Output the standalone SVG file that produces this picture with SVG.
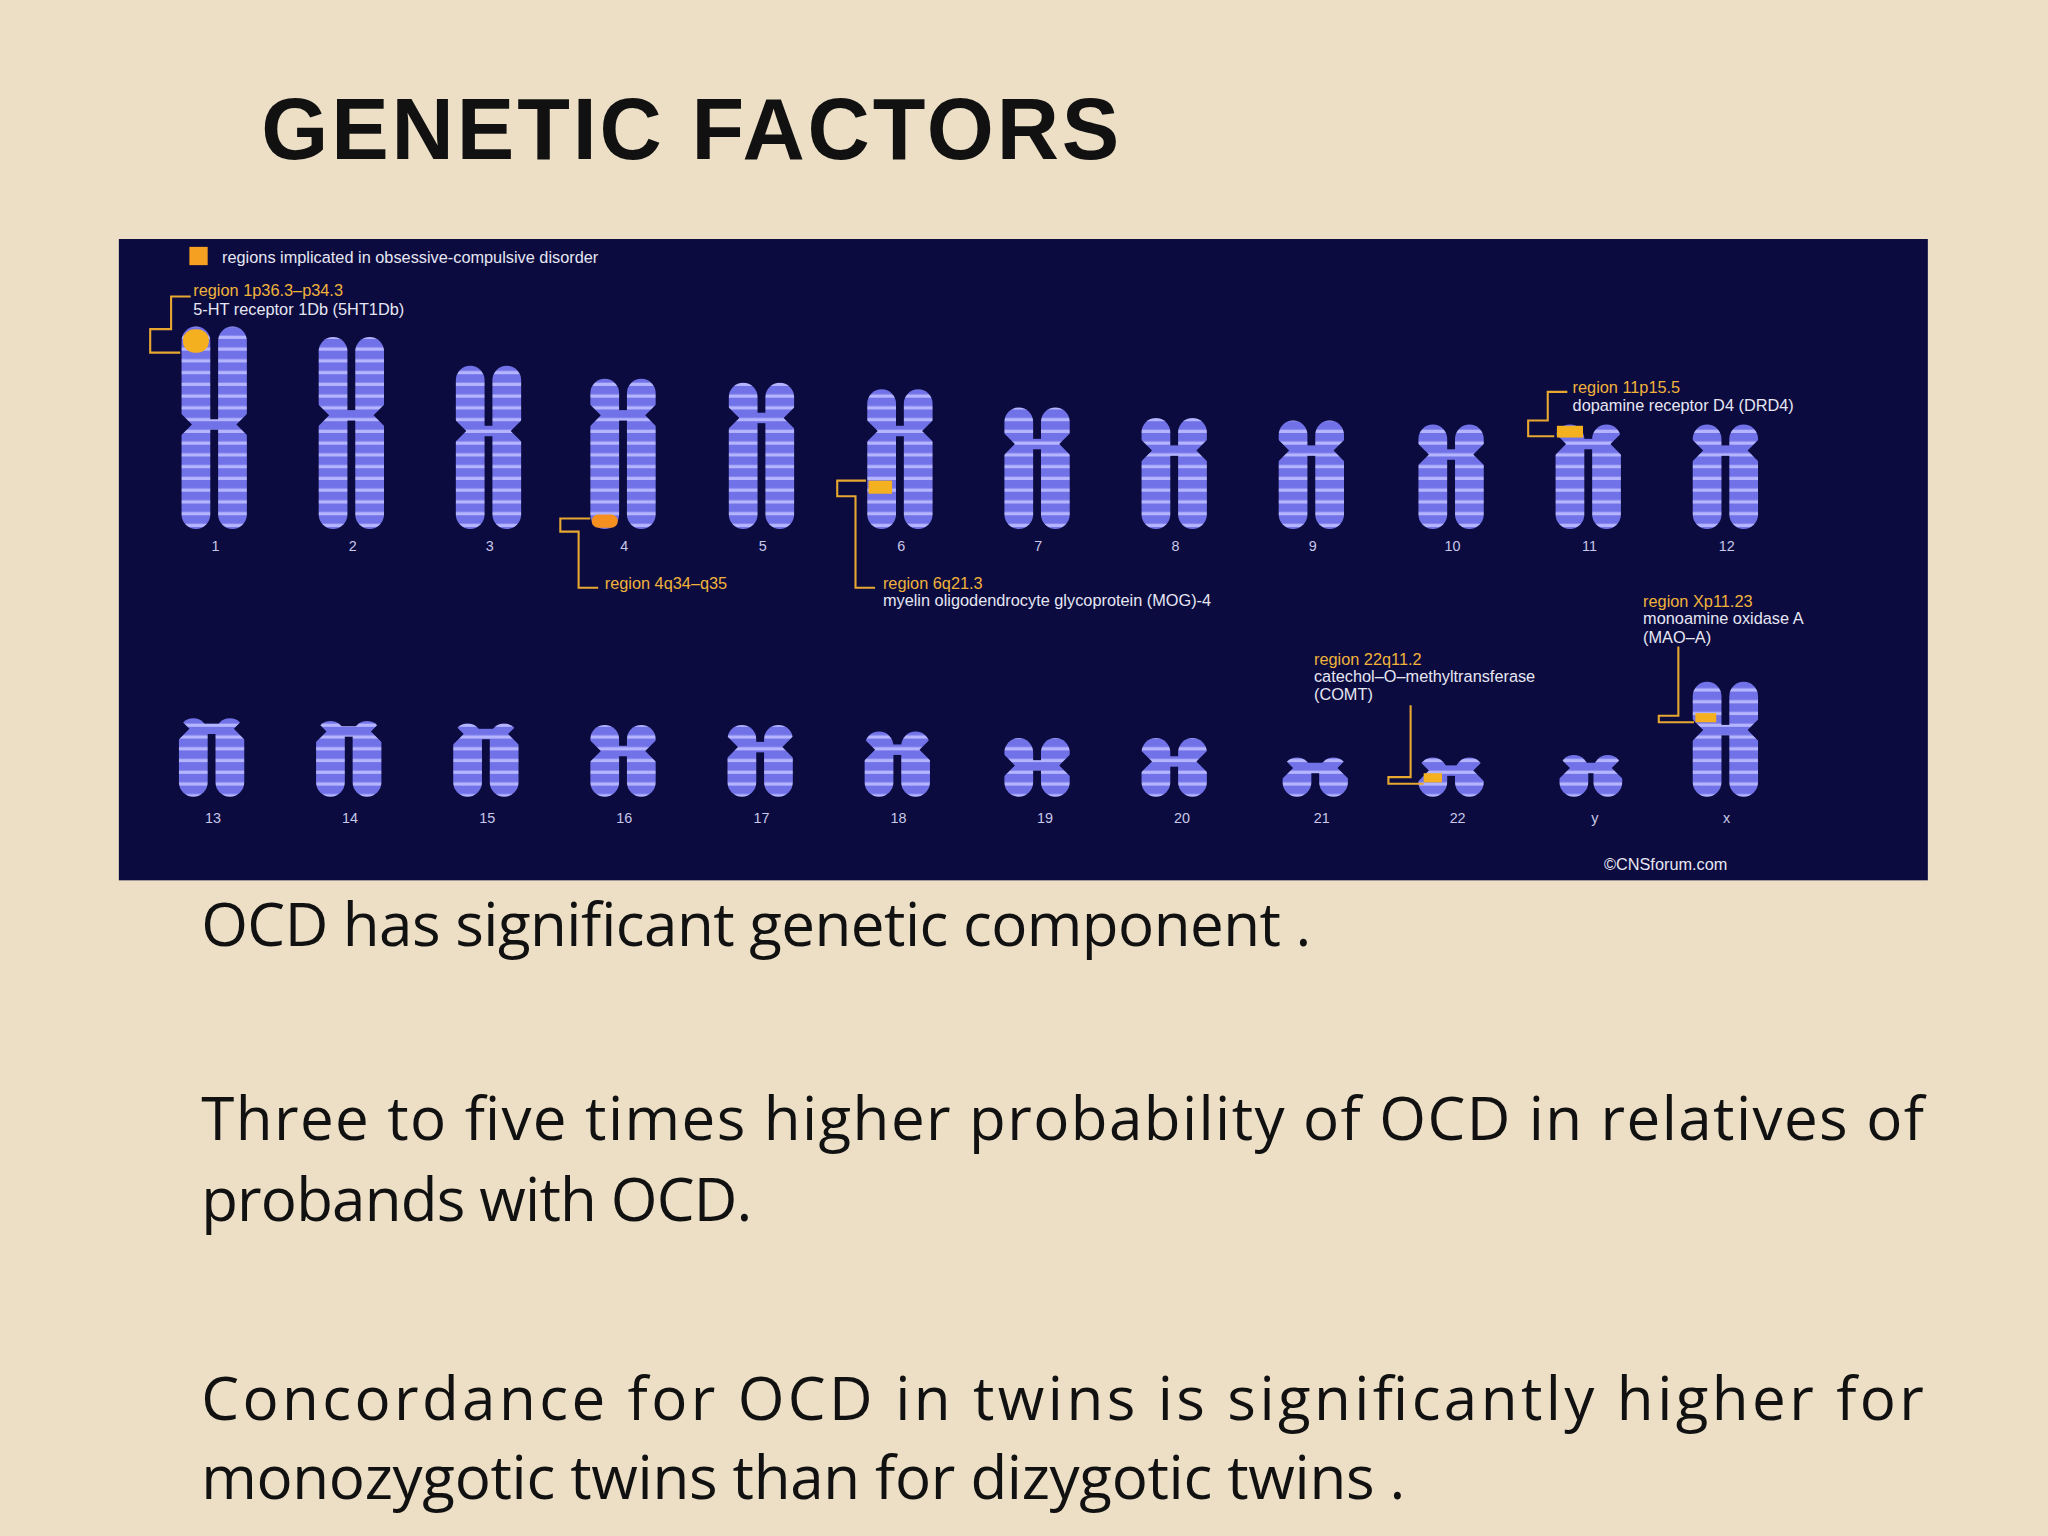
<svg xmlns="http://www.w3.org/2000/svg" width="2048" height="1536" viewBox="0 0 2048 1536">
<defs>
<pattern id="bands" patternUnits="userSpaceOnUse" width="10" height="9">
<rect width="10" height="9" fill="#7272e8"/>
<rect y="5" width="10" height="2.5" fill="#b4b4ff"/>
</pattern>
<style>
.t{font-family:"Liberation Sans",Arial,sans-serif}
.y{fill:#f0b23a;font-size:12.5px}
.w{fill:#e6e6f2;font-size:12.5px}
.n{fill:#c8c8e8;font-size:11px;text-anchor:middle}
.br{fill:none;stroke:#e8a830;stroke-width:1.6}
.ch rect{fill:url(#bands)}
.pin{fill:#0b0b40}
.body{font-family:"Open Sans","Liberation Sans",sans-serif;font-size:46px;fill:#111}
</style>
</defs>
<rect width="2048" height="1536" fill="#ecdfc6"/>
<g transform="scale(1.30612)">
<text class="t" x="200" y="122" font-size="66" font-weight="bold" fill="#111" textLength="657">GENETIC FACTORS</text>
<g id="panel">
<rect x="91" y="183" width="1385" height="491" fill="#0b0b40"/>
<rect x="145" y="189" width="14" height="14" fill="#f5a020"/>
<text class="t w" x="170" y="201">regions implicated in obsessive-compulsive disorder</text>
<text class="t w" x="1228" y="666" font-size="17" fill="#b0b0c8">©CNSforum.com</text>
</g>
<g id="chromosomes">
<g class="ch"><rect x="139" y="250" width="22" height="155" rx="11"/><rect x="167" y="250" width="22" height="155" rx="11"/><rect x="158" y="321" width="12" height="8"/><path class="pin" d="M137 315 L147 325 L137 335Z M191 315 L181 325 L191 335Z"/></g>
<g class="ch"><rect x="244" y="258" width="22" height="147" rx="11"/><rect x="272" y="258" width="22" height="147" rx="11"/><rect x="263" y="314" width="12" height="8"/><path class="pin" d="M242 308 L252 318 L242 328Z M296 308 L286 318 L296 328Z"/></g>
<g class="ch"><rect x="349" y="280" width="22" height="125" rx="11"/><rect x="377" y="280" width="22" height="125" rx="11"/><rect x="368" y="326" width="12" height="8"/><path class="pin" d="M347 320 L357 330 L347 340Z M401 320 L391 330 L401 340Z"/></g>
<g class="ch"><rect x="452" y="290" width="22" height="115" rx="11"/><rect x="480" y="290" width="22" height="115" rx="11"/><rect x="471" y="314" width="12" height="8"/><path class="pin" d="M450 308 L460 318 L450 328Z M504 308 L494 318 L504 328Z"/></g>
<g class="ch"><rect x="558" y="293" width="22" height="112" rx="11"/><rect x="586" y="293" width="22" height="112" rx="11"/><rect x="577" y="316" width="12" height="8"/><path class="pin" d="M556 310 L566 320 L556 330Z M610 310 L600 320 L610 330Z"/></g>
<g class="ch"><rect x="664" y="298" width="22" height="107" rx="11"/><rect x="692" y="298" width="22" height="107" rx="11"/><rect x="683" y="326" width="12" height="8"/><path class="pin" d="M662 320 L672 330 L662 340Z M716 320 L706 330 L716 340Z"/></g>
<g class="ch"><rect x="769" y="312" width="22" height="93" rx="11"/><rect x="797" y="312" width="22" height="93" rx="11"/><rect x="788" y="336" width="12" height="8"/><path class="pin" d="M767 330 L777 340 L767 350Z M821 330 L811 340 L821 350Z"/></g>
<g class="ch"><rect x="874" y="320" width="22" height="85" rx="11"/><rect x="902" y="320" width="22" height="85" rx="11"/><rect x="893" y="341" width="12" height="8"/><path class="pin" d="M872 335 L882 345 L872 355Z M926 335 L916 345 L926 355Z"/></g>
<g class="ch"><rect x="979" y="322" width="22" height="83" rx="11"/><rect x="1007" y="322" width="22" height="83" rx="11"/><rect x="998" y="341" width="12" height="8"/><path class="pin" d="M977 335 L987 345 L977 355Z M1031 335 L1021 345 L1031 355Z"/></g>
<g class="ch"><rect x="1086" y="325" width="22" height="80" rx="11"/><rect x="1114" y="325" width="22" height="80" rx="11"/><rect x="1105" y="344" width="12" height="8"/><path class="pin" d="M1084 338 L1094 348 L1084 358Z M1138 338 L1128 348 L1138 358Z"/></g>
<g class="ch"><rect x="1191" y="325" width="22" height="80" rx="11"/><rect x="1219" y="325" width="22" height="80" rx="11"/><rect x="1210" y="336" width="12" height="8"/><path class="pin" d="M1189 330 L1199 340 L1189 350Z M1243 330 L1233 340 L1243 350Z"/><rect x="1192" y="326" width="20" height="9" style="fill:#f5b020"/></g>
<g class="ch"><rect x="1296" y="325" width="22" height="80" rx="11"/><rect x="1324" y="325" width="22" height="80" rx="11"/><rect x="1315" y="341" width="12" height="8"/><path class="pin" d="M1294 335 L1304 345 L1294 355Z M1348 335 L1338 345 L1348 355Z"/></g>
<g class="ch"><rect x="137" y="550" width="22" height="60" rx="11"/><rect x="165" y="550" width="22" height="60" rx="11"/><rect x="156" y="554" width="12" height="8"/><path class="pin" d="M135 548 L145 558 L135 568Z M189 548 L179 558 L189 568Z"/></g>
<g class="ch"><rect x="242" y="552" width="22" height="58" rx="11"/><rect x="270" y="552" width="22" height="58" rx="11"/><rect x="261" y="556" width="12" height="8"/><path class="pin" d="M240 550 L250 560 L240 570Z M294 550 L284 560 L294 570Z"/></g>
<g class="ch"><rect x="347" y="554" width="22" height="56" rx="11"/><rect x="375" y="554" width="22" height="56" rx="11"/><rect x="366" y="558" width="12" height="8"/><path class="pin" d="M345 552 L355 562 L345 572Z M399 552 L389 562 L399 572Z"/></g>
<g class="ch"><rect x="452" y="555" width="22" height="55" rx="11"/><rect x="480" y="555" width="22" height="55" rx="11"/><rect x="471" y="571" width="12" height="8"/><path class="pin" d="M450 565 L460 575 L450 585Z M504 565 L494 575 L504 585Z"/></g>
<g class="ch"><rect x="557" y="555" width="22" height="55" rx="11"/><rect x="585" y="555" width="22" height="55" rx="11"/><rect x="576" y="568" width="12" height="8"/><path class="pin" d="M555 562 L565 572 L555 582Z M609 562 L599 572 L609 582Z"/></g>
<g class="ch"><rect x="662" y="560" width="22" height="50" rx="11"/><rect x="690" y="560" width="22" height="50" rx="11"/><rect x="681" y="570" width="12" height="8"/><path class="pin" d="M660 564 L670 574 L660 584Z M714 564 L704 574 L714 584Z"/></g>
<g class="ch"><rect x="769" y="565" width="22" height="45" rx="11"/><rect x="797" y="565" width="22" height="45" rx="11"/><rect x="788" y="582" width="12" height="8"/><path class="pin" d="M767 576 L777 586 L767 596Z M821 576 L811 586 L821 596Z"/></g>
<g class="ch"><rect x="874" y="565" width="22" height="45" rx="11"/><rect x="902" y="565" width="22" height="45" rx="11"/><rect x="893" y="579" width="12" height="8"/><path class="pin" d="M872 573 L882 583 L872 593Z M926 573 L916 583 L926 593Z"/></g>
<g class="ch"><rect x="982" y="580" width="22" height="30" rx="11"/><rect x="1010" y="580" width="22" height="30" rx="11"/><rect x="1001" y="584" width="12" height="8"/><path class="pin" d="M980 578 L990 588 L980 598Z M1034 578 L1024 588 L1034 598Z"/></g>
<g class="ch"><rect x="1086" y="580" width="22" height="30" rx="11"/><rect x="1114" y="580" width="22" height="30" rx="11"/><rect x="1105" y="586" width="12" height="8"/><path class="pin" d="M1084 580 L1094 590 L1084 600Z M1138 580 L1128 590 L1138 600Z"/><rect x="1090" y="592" width="14" height="7" style="fill:#f5b020"/></g>
<g class="ch"><rect x="1194" y="578" width="22" height="32" rx="11"/><rect x="1220" y="578" width="22" height="32" rx="11"/><rect x="1211" y="584" width="12" height="8"/><path class="pin" d="M1192 578 L1202 588 L1192 598Z M1244 578 L1234 588 L1244 598Z"/></g>
<g class="ch"><rect x="1296" y="522" width="22" height="88" rx="11"/><rect x="1324" y="522" width="22" height="88" rx="11"/><rect x="1315" y="555" width="12" height="8"/><path class="pin" d="M1294 549 L1304 559 L1294 569Z M1348 549 L1338 559 L1348 569Z"/><rect x="1298" y="546" width="16" height="7" style="fill:#f5b020"/></g>
<rect x="140" y="252" width="20" height="18" rx="9" fill="#f5b020"/>
<rect x="453" y="394" width="20" height="10" rx="5" fill="#f59020"/>
<rect x="665" y="368" width="18" height="10" fill="#f5b020"/>
</g>
<g id="numbers" class="t">
<text class="n" x="165" y="422">1</text><text class="n" x="270" y="422">2</text><text class="n" x="375" y="422">3</text><text class="n" x="478" y="422">4</text><text class="n" x="584" y="422">5</text><text class="n" x="690" y="422">6</text><text class="n" x="795" y="422">7</text><text class="n" x="900" y="422">8</text><text class="n" x="1005" y="422">9</text><text class="n" x="1112" y="422">10</text><text class="n" x="1217" y="422">11</text><text class="n" x="1322" y="422">12</text>
<text class="n" x="163" y="630">13</text><text class="n" x="268" y="630">14</text><text class="n" x="373" y="630">15</text><text class="n" x="478" y="630">16</text><text class="n" x="583" y="630">17</text><text class="n" x="688" y="630">18</text><text class="n" x="800" y="630">19</text><text class="n" x="905" y="630">20</text><text class="n" x="1012" y="630">21</text><text class="n" x="1116" y="630">22</text><text class="n" x="1221" y="630">y</text><text class="n" x="1322" y="630">x</text>
</g>
<g id="connectors">
<path class="br" d="M146 227 H131 V252 H115 V270 H138"/>
<path class="br" d="M452 397 H429 V407 H443 V450 H458"/>
<path class="br" d="M663 368 H641 V380 H655 V450 H670"/>
<path class="br" d="M1200 300 H1185 V322 H1170 V334 H1190"/>
<path class="br" d="M1080 540 V595 H1063 V600 H1090"/>
<path class="br" d="M1285 495 V548 H1270 V553 H1297"/>
</g>
<g id="labels" class="t">
<text class="y" x="148" y="227">region 1p36.3–p34.3</text>
<text class="w" x="148" y="241">5-HT receptor 1Db (5HT1Db)</text>
<text class="y" x="463" y="451">region 4q34–q35</text>
<text class="y" x="676" y="451">region 6q21.3</text>
<text class="w" x="676" y="464">myelin oligodendrocyte glycoprotein (MOG)-4</text>
<text class="y" x="1204" y="301">region 11p15.5</text>
<text class="w" x="1204" y="315">dopamine receptor D4 (DRD4)</text>
<text class="y" x="1006" y="509">region 22q11.2</text>
<text class="w" x="1006" y="522">catechol–O–methyltransferase</text>
<text class="w" x="1006" y="536">(COMT)</text>
<text class="y" x="1258" y="465">region Xp11.23</text>
<text class="w" x="1258" y="478">monoamine oxidase A</text>
<text class="w" x="1258" y="492">(MAO–A)</text>
</g>
<g id="body">
<text class="body" x="154" y="724" textLength="850">OCD has significant genetic component .</text>
<text class="body" x="154" y="873" textLength="1319" lengthAdjust="spacing">Three to five times higher probability of OCD in relatives of</text>
<text class="body" x="154" y="935" textLength="422">probands with OCD.</text>
<text class="body" x="154" y="1087" textLength="1319" lengthAdjust="spacing">Concordance for OCD in twins is significantly higher for</text>
<text class="body" x="154" y="1148" textLength="922">monozygotic twins than for dizygotic twins .</text>
</g>
</g>
</svg>
